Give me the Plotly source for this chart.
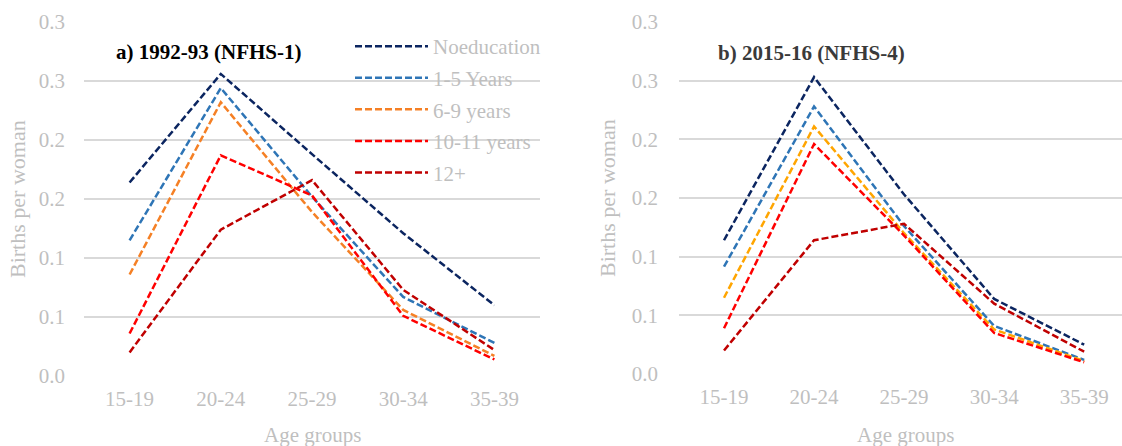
import plotly.graph_objects as go

# ---------------- data ----------------
categories = ["15-19", "20-24", "25-29", "30-34", "35-39"]
series_names = ["Noeducation", "1-5 Years", "6-9 years", "10-11 years", "12+"]

# a) 1992-93 (NFHS-1)
no_edu_92 = [0.164, 0.256, 0.188, 0.121, 0.060]
yrs1_5_92 = [0.115, 0.244, 0.152, 0.067, 0.028]
yrs6_9_92 = [0.086, 0.232, 0.139, 0.056, 0.017]
yrs10_11_92 = [0.036, 0.187, 0.153, 0.051, 0.014]
yrs12_92 = [0.020, 0.124, 0.166, 0.073, 0.022]

# b) 2015-16 (NFHS-4)
no_edu_15 = [0.114, 0.253, 0.153, 0.064, 0.025]
yrs1_5_15 = [0.0915, 0.228, 0.126, 0.041, 0.012]
yrs6_9_15 = [0.065, 0.211, 0.120, 0.038, 0.011]
yrs10_11_15 = [0.039, 0.196, 0.118, 0.035, 0.010]
yrs12_15 = [0.020, 0.114, 0.128, 0.060, 0.019]

y_tickvals = [0.0, 0.05, 0.10, 0.15, 0.20, 0.25, 0.30]
y_ticktext = ["0.0", "0.1", "0.1", "0.2", "0.2", "0.3", "0.3"]

colors_92 = ["#0B2560", "#2E75B6", "#F58025", "#FF0000", "#C00000"]
colors_15 = ["#0B2560", "#2E75B6", "#FFA500", "#FF0000", "#C00000"]

# ---------------- figure ----------------
W, H = 1122, 446
FONT = "Liberation Serif"
GRAY = "#BFBFBF"

fig = go.Figure()

data_92 = [no_edu_92, yrs1_5_92, yrs6_9_92, yrs10_11_92, yrs12_92]
data_15 = [no_edu_15, yrs1_5_15, yrs6_9_15, yrs10_11_15, yrs12_15]

for i, (name, vals) in enumerate(zip(series_names, data_92)):
    fig.add_trace(go.Scatter(
        x=categories, y=vals, name=name, mode="lines",
        line=dict(color=colors_92[i], width=2.5, dash="7px,3px"),
        xaxis="x", yaxis="y", legendgroup=f"g{i}", showlegend=True,
    ))
for i, (name, vals) in enumerate(zip(series_names, data_15)):
    fig.add_trace(go.Scatter(
        x=categories, y=vals, name=name, mode="lines",
        line=dict(color=colors_15[i], width=2.5, dash="7px,3px"),
        xaxis="x2", yaxis="y2", legendgroup=f"h{i}", showlegend=False,
    ))

def px_x(p):
    return p / W

def px_y(p):
    return (H - p) / H

xcommon = dict(
    type="category", showgrid=False, zeroline=False, showline=False,
    ticks="", tickfont=dict(family=FONT, size=21, color=GRAY),
    ticklabelstandoff=8, automargin=False,
)
ycommon = dict(
    range=[0, 0.3], showgrid=True, gridcolor="#D9D9D9", gridwidth=1.5,
    zeroline=False, showline=False, ticks="", automargin=False,
    tickvals=y_tickvals, ticktext=y_ticktext,
    tickfont=dict(family=FONT, size=21, color=GRAY),
)

fig.update_layout(
    width=W, height=H,
    margin=dict(l=0, r=0, t=0, b=0, pad=0, autoexpand=False),
    paper_bgcolor="white", plot_bgcolor="white",
    font=dict(family=FONT, size=21, color=GRAY),
    xaxis=dict(domain=[px_x(84), px_x(540)], range=[-0.5, 4.5], anchor="y", **xcommon),
    yaxis=dict(domain=[px_y(376), px_y(22)], anchor="x", ticklabelstandoff=18, **ycommon),
    xaxis2=dict(domain=[px_x(679), 1.0], range=[-0.5, 4.42], anchor="y2", **xcommon),
    yaxis2=dict(domain=[px_y(374), px_y(22)], anchor="x2", ticklabelstandoff=20, **ycommon),
    legend=dict(
        x=px_x(350), y=px_y(26), xanchor="left", yanchor="top",
        bgcolor="rgba(0,0,0,0)", borderwidth=0,
        font=dict(family=FONT, size=21, color=GRAY),
        tracegroupgap=1.3, itemwidth=73,
    ),
    showlegend=True,
)

annotations = [
    dict(text="<b>a) 1992-93 (NFHS-1)</b>", x=px_x(114), y=px_y(52),
         xanchor="left", yanchor="middle", showarrow=False,
         font=dict(family=FONT, size=21, color="#000000")),
    dict(text="<b>b) 2015-16 (NFHS-4)</b>", x=px_x(716), y=px_y(53),
         xanchor="left", yanchor="middle", showarrow=False,
         font=dict(family=FONT, size=21, color="#3A3A3A")),
    dict(text="Age groups", x=px_x(312), y=px_y(435),
         xanchor="center", yanchor="middle", showarrow=False,
         font=dict(family=FONT, size=21, color=GRAY)),
    dict(text="Age groups", x=px_x(905), y=px_y(435),
         xanchor="center", yanchor="middle", showarrow=False,
         font=dict(family=FONT, size=21, color=GRAY)),
    dict(text="Births per woman", x=px_x(18), y=px_y(199), textangle=-90,
         xanchor="center", yanchor="middle", showarrow=False,
         font=dict(family=FONT, size=22, color=GRAY)),
    dict(text="Births per woman", x=px_x(608), y=px_y(198), textangle=-90,
         xanchor="center", yanchor="middle", showarrow=False,
         font=dict(family=FONT, size=22, color=GRAY)),
]
for a in annotations:
    a["xref"] = "paper"
    a["yref"] = "paper"
fig.update_layout(annotations=annotations)

fig.write_html(
    "out.html",
    config={"displayModeBar": False},
    post_script="document.body.style.margin='0';document.body.style.padding='0';",
)
